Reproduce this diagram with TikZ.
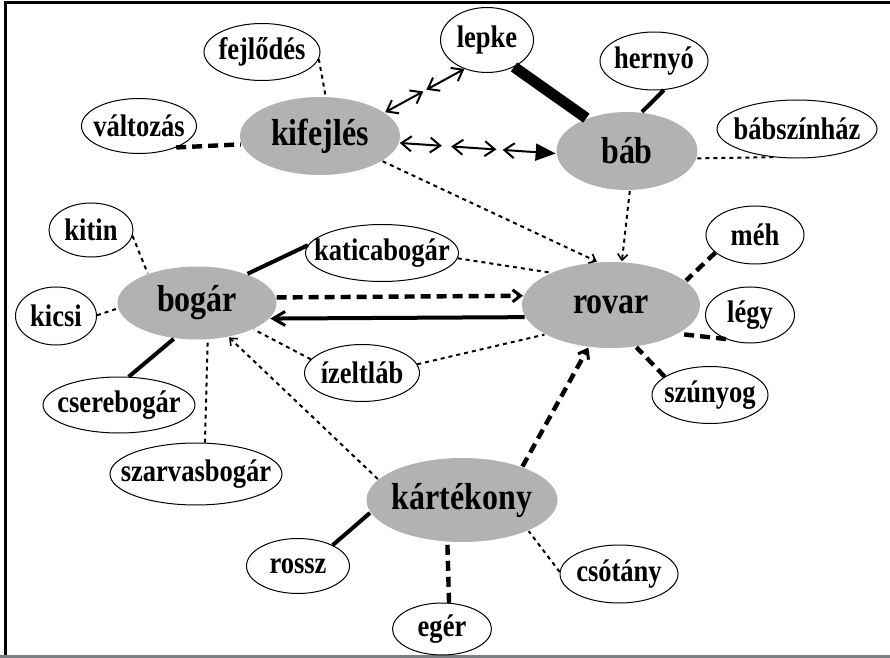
\documentclass[tikz,border=0pt]{standalone}
\usepackage{fontspec}
\setmainfont{Liberation Serif}[FakeStretch=0.85]
\usetikzlibrary{%
  arrows.meta,%
  shapes.geometric,% wg. ellipse
  calc%
}
\definecolor{conceptgray}{RGB}{178,178,178}
\definecolor{framegray}{RGB}{120,128,132}

\begin{document}
\begin{tikzpicture}[
  x=0.5pt, y=-0.5pt, line width=1pt,
  concept/.style={ellipse, inner sep=0pt, fill=conceptgray, font=\fontsize{18.8}{20}\selectfont\bfseries,
    execute at begin node={\hbox to 0pt\bgroup\hss}, execute at end node={\hss\egroup}},
  term/.style={ellipse, inner sep=0pt, draw=black, line width=0.5pt, fill=white, font=\fontsize{15.6}{17}\selectfont\bfseries,
    execute at begin node={\hbox to 0pt\bgroup\hss}, execute at end node={\hss\egroup}},
  weak/.style={line width=1pt, dash pattern=on 2pt off 2pt},
  strong/.style={line width=2.2pt, dash pattern=on 5pt off 3pt},
  firm/.style={line width=2pt},
  heavy/.style={line width=5.5pt},
  barb/.tip={Straight Barb[length=3pt, width=5pt, line width=0.8pt]},
  bigbarb/.tip={Straight Barb[length=5pt, width=7.5pt, line width=1pt]}
]

\useasboundingbox (0,0) rectangle (890,658);
\draw[line width=1.5pt] (5,658) -- (5,3) -- (890,3);
\draw[line width=1.5pt, framegray] (0,656) -- (890,656);

% central concepts
\node[concept, minimum width=80pt, minimum height=39pt] (kif) at (320,136) {kifejlés};
\node[concept, minimum width=70.5pt, minimum height=39pt] (bab) at (627,151) {báb};
\node[concept, minimum width=79.5pt, minimum height=36.5pt] (bogar) at (197,303) {bogár};
\node[concept, minimum width=89pt, minimum height=43pt] (rovar) at (611,305) {rovar};
\node[concept, minimum width=95.5pt, minimum height=42pt] (kart) at (462,500) {kártékony};

% terms
\node[term, minimum width=58pt, minimum height=28.5pt] (fejl) at (262,52) {fejlődés};
\node[term, minimum width=57.5pt, minimum height=27.5pt] (valt) at (139,126) {változás};
\node[term, minimum width=46.5pt, minimum height=32.5pt] (lepke) at (487,40) {lepke};
\node[term, minimum width=54pt, minimum height=29pt] (hern) at (654,61) {hernyó};
\node[term, minimum width=80pt, minimum height=29pt] (babsz) at (797,129) {bábszínház};
\node[term, minimum width=42pt, minimum height=27pt] (kitin) at (91,230) {kitin};
\node[term, minimum width=40.5pt, minimum height=29pt] (kicsi) at (56,316) {kicsi};
\node[term, minimum width=76.5pt, minimum height=28.5pt] (katica) at (382,253) {katicabogár};
\node[term, minimum width=57.5pt, minimum height=28.5pt] (izelt) at (362,373) {ízeltláb};
\node[term, minimum width=76pt, minimum height=28pt] (csere) at (119,405) {cserebogár};
\node[term, minimum width=86pt, minimum height=31pt] (szarv) at (196,474) {szarvasbogár};
\node[term, minimum width=49pt, minimum height=29pt] (meh) at (755,235) {méh};
\node[term, minimum width=44.5pt, minimum height=28pt] (legy) at (750,315) {légy};
\node[term, minimum width=58pt, minimum height=28.5pt] (szuny) at (710,395) {szúnyog};
\node[term, minimum width=51.5pt, minimum height=27.5pt] (rossz) at (298,566) {rossz};
\node[term, minimum width=49.5pt, minimum height=26pt] (eger) at (442,629) {egér};
\node[term, minimum width=59pt, minimum height=29pt] (csot) at (619,574) {csótány};

% kifejlés, báb
\draw[weak] (fejl.-7) -- (kif.82);
\draw[strong] (valt.-30) -- (kif.186);
\draw[bigbarb-bigbarb] (kif.20) -- ($(kif.20)!0.48!(lepke.232)$);
\draw[bigbarb-bigbarb] ($(kif.20)!0.52!(lepke.232)$) -- (lepke.232);
\draw[bigbarb-bigbarb] (kif.-5) -- ($(kif.-5)!0.27!(bab.182)$);
\draw[bigbarb-bigbarb] ($(kif.-5)!0.33!(bab.182)$) -- ($(kif.-5)!0.62!(bab.182)$);
\draw[bigbarb-{Triangle[length=10pt, width=8.5pt]}] ($(kif.-5)!0.66!(bab.182)$) -- (bab.182);
\draw[heavy] (lepke.-45) -- (bab.141);
\draw[firm] (hern.-71) -- (bab.69);
\draw[weak] (bab.-6) -- (babsz.230);
\draw[weak, -barb] (kif.-22) -- (rovar.108);
\draw[weak, -barb] (bab.-86) -- (rovar.76);

% bogár, rovar
\draw[weak] (katica.-4) -- (rovar.152);
\draw[firm] (katica.174) -- (bogar.30);
\draw[strong, -{Straight Barb[length=4pt, width=6pt, line width=1.5pt]}] (bogar.4) -- (rovar.174);
\draw[firm, -{Straight Barb[length=6pt, width=7pt, line width=1.5pt]}] (rovar.188) -- (bogar.-12);
\draw[weak] (izelt.9) -- (rovar.204);
\draw[weak] (izelt.165) -- (bogar.-25);
\draw[weak] (kitin.-8) -- (bogar.149);
\draw[weak] (kicsi.1) -- (bogar.184);
\draw[firm] (csere.71) -- (bogar.237);
\draw[weak] (szarv.74) -- (bogar.-74);
\draw[strong] (meh.204) -- (rovar.18);
\draw[strong] (legy.225) -- (rovar.-23);
\draw[strong] (szuny.158) -- (rovar.-59);

% kártékony
\draw[weak, -barb] (kart.166) -- (bogar.-47);
\draw[strong, -{Straight Barb[length=4pt, width=6pt, line width=1.5pt]}] (kart.29) -- (rovar.242);
\draw[firm] (rossz.31) -- (kart.188);
\draw[strong] (eger.75) -- (kart.251);
\draw[weak] (csot.178) -- (kart.-25);

\end{tikzpicture}
\end{document}
